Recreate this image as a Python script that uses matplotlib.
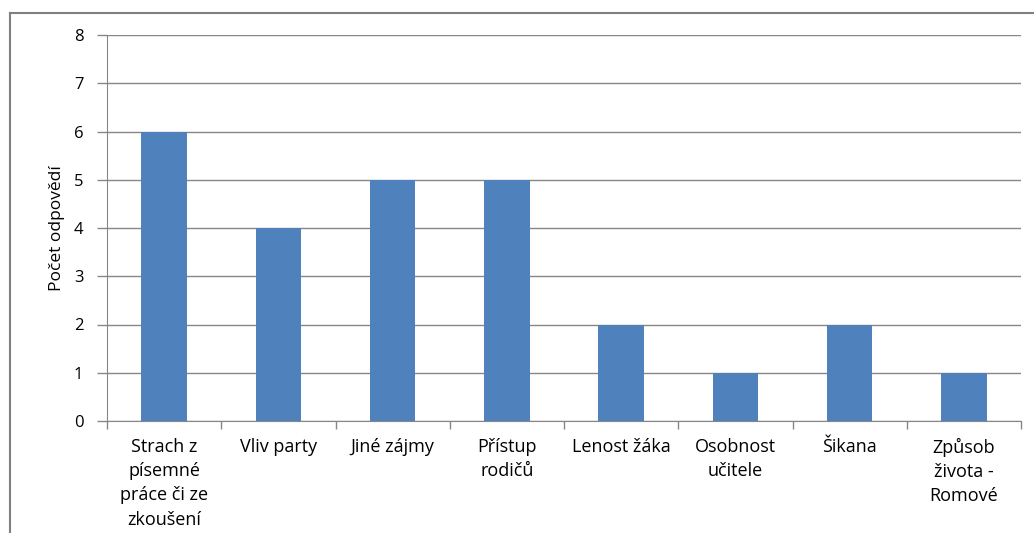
import matplotlib
matplotlib.use("Agg")
import matplotlib.pyplot as plt
from matplotlib.lines import Line2D

categories = ["Strach z\npísemné\npráce či ze\nzkoušení", "Vliv party", "Jiné zájmy",
              "Přístup\nrodičů", "Lenost žáka", "Osobnost\nučitele", "Šikana",
              "Způsob\nživota -\nRomové"]
values = [6, 4, 5, 5, 2, 1, 2, 1]
y_ticks = [0, 1, 2, 3, 4, 5, 6, 7, 8]
y_label = "Počet odpovědí"

plt.rcParams['font.family'] = ['Open Sans', 'DejaVu Sans']

W, H = 1034, 533
fig = plt.figure(figsize=(W / 100, H / 100), dpi=100)
ax = fig.add_axes([107 / W, 1 - 421 / H, (1021 - 107) / W, (421 - 35) / H])

grid_c = "#868686"
x = list(range(len(categories)))
ax.bar(x, values, width=0.4, color="#4F81BD", zorder=3)
ax.set_xlim(-0.5, len(categories) - 0.5)
ax.set_ylim(0, 8)
ax.set_yticks(y_ticks)
ax.set_yticklabels([str(v) for v in y_ticks], fontsize=12)
ax.yaxis.grid(True, color=grid_c, linewidth=1, zorder=0)
ax.set_xticks([i - 0.5 for i in range(len(categories) + 1)], minor=False)
ax.set_xticklabels([])
ax.set_xticks(x, minor=True)
ax.set_xticklabels(categories, minor=True, fontsize=13, linespacing=1.45, va="top")
ax.tick_params(axis="x", which="major", length=6, color=grid_c, width=1)
ax.tick_params(axis="x", which="minor", length=0, pad=12)
ax.tick_params(axis="y", length=7, color=grid_c, width=1, pad=10)
for s in ["top", "right"]:
    ax.spines[s].set_visible(False)
for s in ["left", "bottom"]:
    ax.spines[s].set_color(grid_c)
ax.set_ylabel(y_label, fontsize=12.5, labelpad=6)

# outer chart frame
fig.add_artist(Line2D([10 / W, 10 / W], [0, 1 - 13 / H], transform=fig.transFigure, color="#808080", lw=1.5))
fig.add_artist(Line2D([10 / W, 1], [1 - 13 / H, 1 - 13 / H], transform=fig.transFigure, color="#808080", lw=1.5))

fig.savefig("out.png", dpi=100)
